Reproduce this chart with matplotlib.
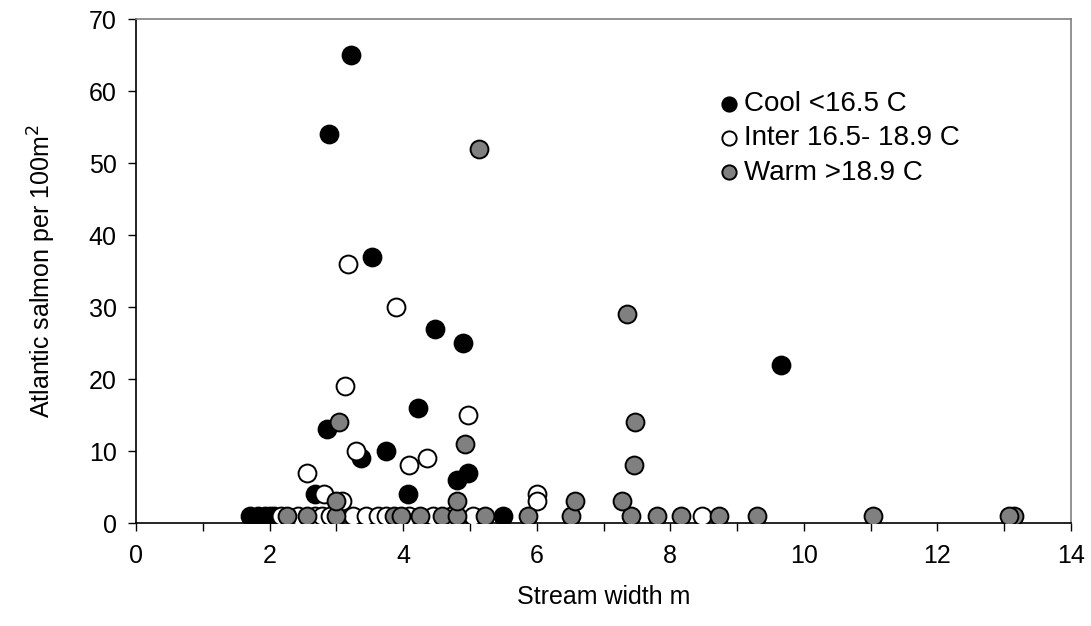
import matplotlib
matplotlib.use("Agg")
import matplotlib.pyplot as plt
from matplotlib.ticker import MultipleLocator

plt.rcParams['font.family'] = ['Liberation Sans', 'DejaVu Sans']

# Cool <16.5 C
cool_x = [1.71, 1.83, 1.93, 2.00, 2.07, 5.50,
          3.22, 2.89, 3.53, 4.47, 4.89, 9.65, 4.22, 2.86, 3.74, 3.37, 4.97, 4.80, 2.68, 4.07]
cool_y = [1, 1, 1, 1, 1, 1,
          65, 54, 37, 27, 25, 22, 16, 13, 10, 9, 7, 6, 4, 4]

# Inter 16.5- 18.9 C
inter_x = [2.17, 2.43, 2.68, 2.78, 2.90, 3.25, 3.45, 3.62, 3.74, 4.08, 4.45, 4.72, 5.05, 8.48,
           3.17, 3.89, 3.13, 4.97, 3.29, 4.36, 4.09, 2.56, 2.82, 6.00, 3.08, 6.00]
inter_y = [1, 1, 1, 1, 1, 1, 1, 1, 1, 1, 1, 1, 1, 1,
           36, 30, 19, 15, 10, 9, 8, 7, 4, 4, 3, 3]

# Warm >18.9 C
warm_x = [2.26, 2.56, 3.00, 3.86, 3.96, 4.25, 4.58, 4.81, 5.22, 5.87, 6.51, 7.41, 7.80, 8.16,
          8.73, 9.30, 11.04, 13.15, 13.07,
          5.14, 7.35, 7.47, 3.04, 4.93, 7.45, 3.00, 4.80, 6.57, 7.28]
warm_y = [1, 1, 1, 1, 1, 1, 1, 1, 1, 1, 1, 1, 1, 1,
          1, 1, 1, 1, 1,
          52, 29, 14, 14, 11, 8, 3, 3, 3, 3]

fig = plt.figure(figsize=(10.91, 6.26), dpi=100)
ax = fig.add_axes([0.1247, 0.1645, 0.8570, 0.8047])

ms = 165
ax.scatter(cool_x, cool_y, s=ms, c='black', edgecolors='black', linewidths=1.4,
           label='Cool <16.5 C', zorder=3)
ax.scatter(inter_x, inter_y, s=ms, c='white', edgecolors='black', linewidths=1.4,
           label='Inter 16.5- 18.9 C', zorder=4)
ax.scatter(warm_x, warm_y, s=ms, c='#808080', edgecolors='black', linewidths=1.4,
           label='Warm >18.9 C', zorder=5)

ax.set_xlim(0, 14)
ax.set_ylim(0, 70)
ax.xaxis.set_major_locator(MultipleLocator(2))
ax.xaxis.set_minor_locator(MultipleLocator(1))
ax.yaxis.set_major_locator(MultipleLocator(10))
ax.tick_params(axis='both', which='both', direction='out', length=6, width=1,
               labelsize=18, pad=8)
ax.tick_params(axis='x', which='both', pad=9)

for side in ['left', 'bottom']:
    ax.spines[side].set_color('black')
    ax.spines[side].set_linewidth(1.2)
for side in ['top', 'right']:
    ax.spines[side].set_color('#808080')
    ax.spines[side].set_linewidth(1.2)

ax.set_xlabel('Stream width m', fontsize=18, labelpad=12)
ax.set_ylabel('Atlantic salmon per 100m$^2$', fontsize=18, labelpad=22)

leg = ax.legend(loc='upper left', bbox_to_anchor=(0.603, 0.885), frameon=False,
                fontsize=20, markerscale=0.8, handletextpad=0.0, labelspacing=0.3,
                borderpad=0, handlelength=1.1)

fig.savefig('out.png', dpi=100)
